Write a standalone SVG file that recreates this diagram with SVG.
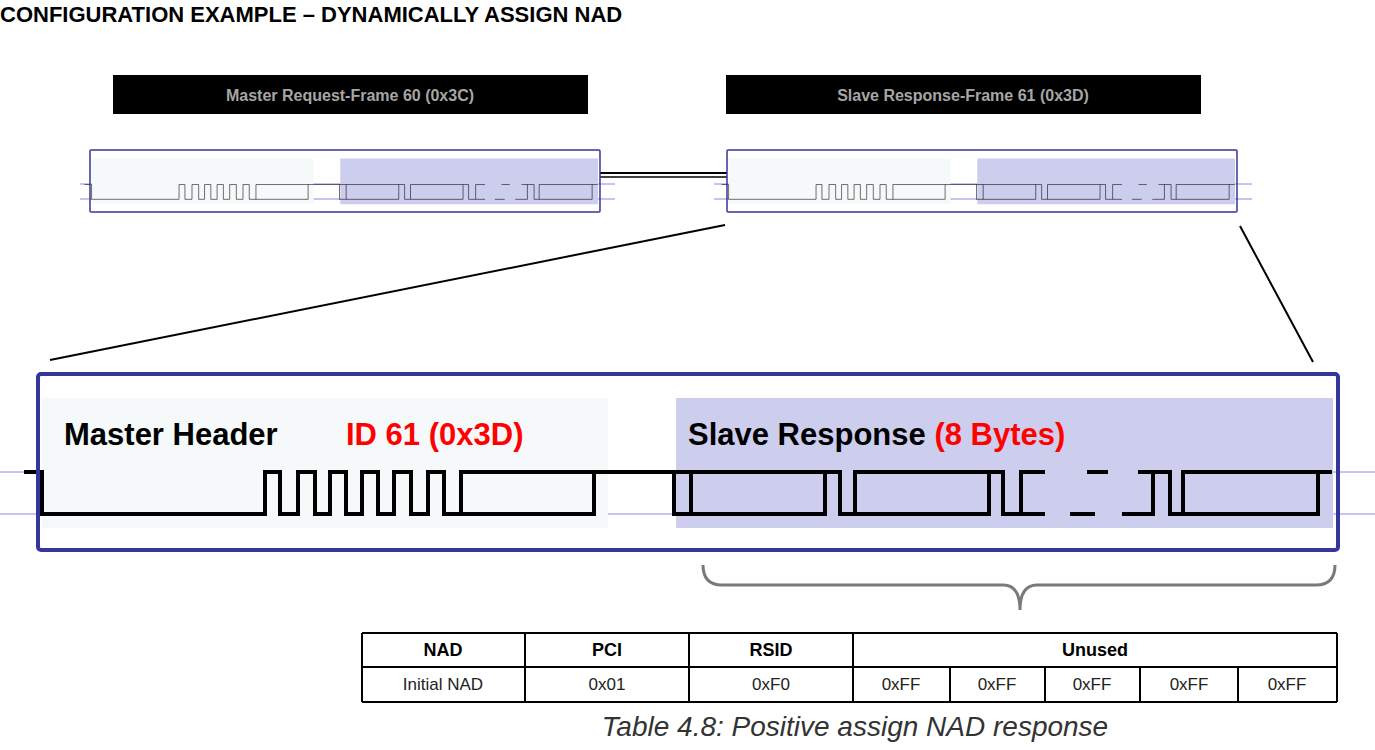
<svg xmlns="http://www.w3.org/2000/svg" xmlns:xlink="http://www.w3.org/1999/xlink" width="1375" height="750" viewBox="0 0 1375 750">
<style>
text{font-family:"Liberation Sans",Arial,sans-serif}
.title{font-size:22px;font-weight:bold}
.bar{fill:#000}
.bartxt{fill:#a6a6a6;font-size:16px;font-weight:bold;text-anchor:middle}
.big{font-size:31px;font-weight:bold}
.red{fill:#ff0000}
.blue{stroke:#8a8ae6;stroke-width:1}
.wave{fill:none;stroke:#000;stroke-linejoin:miter;vector-effect:non-scaling-stroke}
.frame{fill:none;stroke:#35359a;stroke-linejoin:round;vector-effect:non-scaling-stroke}
.tb{stroke:#000;stroke-width:2;fill:none}
.th{font-size:18px;font-weight:bold;text-anchor:middle}
.td{font-size:17px;text-anchor:middle;fill:#222}
</style>
<defs>
<g id="frameContent">
<rect x="42" y="398" width="566" height="130" fill="#f5f9fa"/>
<rect x="676" y="398" width="657" height="130" fill="#cdcdee"/>
<g class="wave">
<path d="M24,472 H42 V514 H265 V472 H280 V514 H298 V472 H315 V514 H330 V472 H346 V514 H362 V472 H378 V514 H394 V472 H411 V514 H428 V472 H444 V514 H461 V472 H840 V514 H855 V472 H1003 V514 H1021 V472 H1045"/>
<path d="M461,514 H594 V472 M674,472 V514 H825 V472 M691,472 V514 M855,514 H989 V472 M1021,514 H1045 M1087,472 H1108 M1070,514 H1095 M1153,472 V514 H1122 M1138,472 H1170 V514 H1183 V472 H1332 M1183,514 H1318 V472"/>
</g>
<rect class="frame" x="38" y="374" width="1300" height="176" rx="3"/>
</g>
</defs>
<text class="title" x="0" y="22">CONFIGURATION EXAMPLE – DYNAMICALLY ASSIGN NAD</text>
<g id="bar-master"><rect class="bar" x="113" y="75" width="475" height="39"/><text class="bartxt" x="350" y="101">Master Request-Frame 60 (0x3C)</text></g>
<g id="bar-slave"><rect class="bar" x="726" y="75" width="475" height="39"/><text class="bartxt" x="963" y="101">Slave Response-Frame 61 (0x3D)</text></g>
<g id="connectors">
<line class="blue" x1="80" y1="184" x2="615" y2="184"/><line class="blue" x1="80" y1="199" x2="615" y2="199"/>
<line class="blue" x1="714" y1="184" x2="1252" y2="184"/><line class="blue" x1="714" y1="199" x2="1252" y2="199"/>
<line x1="600" y1="173" x2="727" y2="173" stroke="#000" stroke-width="2"/>
<line x1="600" y1="177" x2="727" y2="177" stroke="#000" stroke-width="1.5"/>
<line x1="725" y1="225" x2="50" y2="360" stroke="#000" stroke-width="2"/>
<line x1="1240" y1="226" x2="1313" y2="362" stroke="#000" stroke-width="2"/>
<line class="blue" x1="0" y1="472" x2="1375" y2="472"/>
<line class="blue" x1="0" y1="514" x2="1375" y2="514"/>
<path d="M703,565 Q703,585 722,585 L1003,585 Q1020,585 1020,610 Q1020,585 1037,585 L1316,585 Q1335,585 1335,565" fill="none" stroke="#7a7a7a" stroke-width="3"/>
</g>
<g id="frame-master-small"><use xlink:href="#frameContent" transform="translate(90,150) scale(0.3923,0.3523) translate(-38,-374)" stroke-width="1.5"/></g>
<g id="frame-slave-small"><use xlink:href="#frameContent" transform="translate(727,150) scale(0.3923,0.3523) translate(-38,-374)" stroke-width="1.5"/></g>
<g id="frame-big">
<use xlink:href="#frameContent" stroke-width="4"/>
<text class="big" x="64" y="445">Master Header</text>
<text class="big red" x="346" y="445">ID 61 (0x3D)</text>
<text class="big" x="688" y="445">Slave Response <tspan class="red">(8 Bytes)</tspan></text>
</g>
<style>#frame-big .frame{stroke-width:5}#frame-master-small .frame,#frame-slave-small .frame{stroke-width:5}</style>
<g id="table">
<path class="tb" d="M362,633 H1337 M362,667 H1337 M362,702 H1337 M362,633 V702 M525,633 V702 M689,633 V702 M853,633 V702 M1337,633 V702 M950,667 V702 M1045,667 V702 M1140,667 V702 M1238,667 V702"/>
<text class="th" x="443" y="656">NAD</text>
<text class="th" x="607" y="656">PCI</text>
<text class="th" x="771" y="656">RSID</text>
<text class="th" x="1095" y="656">Unused</text>
<text class="td" x="443" y="690">Initial NAD</text>
<text class="td" x="607" y="690">0x01</text>
<text class="td" x="771" y="690">0xF0</text>
<text class="td" x="901" y="690">0xFF</text>
<text class="td" x="997" y="690">0xFF</text>
<text class="td" x="1092" y="690">0xFF</text>
<text class="td" x="1189" y="690">0xFF</text>
<text class="td" x="1287" y="690">0xFF</text>
<text x="855" y="736" font-size="28" font-style="italic" fill="#333" text-anchor="middle">Table 4.8: Positive assign NAD response</text>
</g>
</svg>
